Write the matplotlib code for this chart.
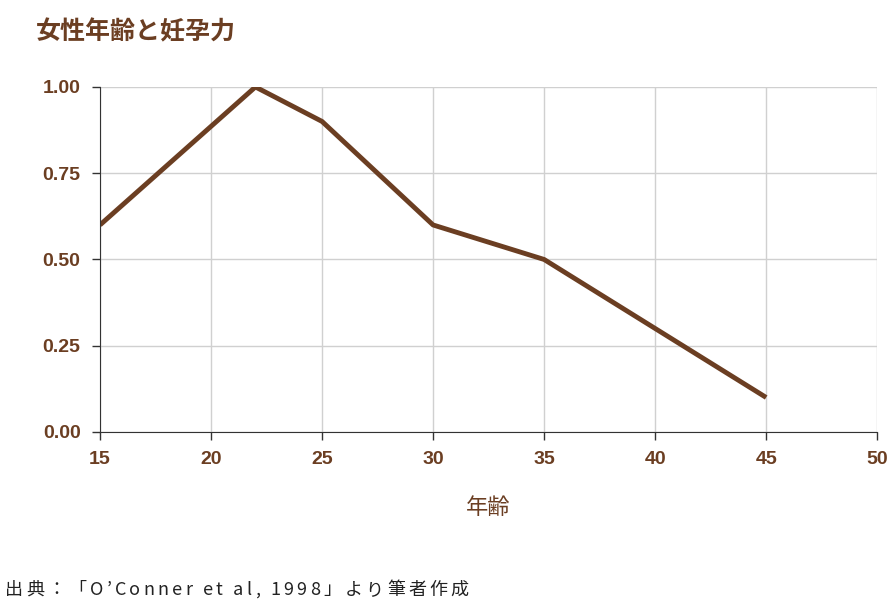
import matplotlib.pyplot as plt

plt.rcParams['font.family'] = ['Noto Sans CJK JP', 'DejaVu Sans']

# data
ages = [15, 22, 25, 30, 35, 40, 45]
fertility = [0.6, 1.0, 0.9, 0.6, 0.5, 0.3, 0.1]
x_ticks = [15, 20, 25, 30, 35, 40, 45, 50]
y_ticks = [0.0, 0.25, 0.5, 0.75, 1.0]
source = '出典：「O’Conner et al, 1998」より筆者作成'

brown = '#6b3e22'

fig = plt.figure(figsize=(8.96, 6.08), dpi=100)
ax = fig.add_axes([0.1116, 0.2895, 0.8674, 0.5675])

ax.plot(ages, fertility, color=brown, linewidth=3.5, solid_capstyle='butt')
ax.set_xlim(15, 50)
ax.set_ylim(0, 1)
ax.set_xticks(x_ticks)
ax.set_yticks(y_ticks)
ax.set_yticklabels([f'{v:.2f}' for v in y_ticks])
ax.grid(True, color='#d0d0d0', linewidth=1)
ax.set_axisbelow(True)
for s in ['top', 'right']:
    ax.spines[s].set_visible(False)
for s in ['left', 'bottom']:
    ax.spines[s].set_color('#333333')
ax.tick_params(colors=brown, labelsize=14, length=6, width=1, pad=8)
ax.tick_params(axis='both', color='#333333')
for lab in ax.get_xticklabels() + ax.get_yticklabels():
    lab.set_fontweight('bold')
    lab.set_family(['Liberation Sans', 'DejaVu Sans'])

ax.set_xlabel('年齢', color=brown, fontsize=16, labelpad=20)

fig.text(0.04, 0.935, '女性年齢と妊孕力', color=brown, fontsize=18, fontweight='bold')

# letter-spaced source line
renderer = fig.canvas.get_renderer()
x = 5
for ch in source:
    t = fig.text(x / 896, 0.022, ch, color='#222222', fontsize=13)
    w = t.get_window_extent(renderer).width
    x += w + 3.2

fig.savefig('out.png', dpi=100, facecolor='white')
